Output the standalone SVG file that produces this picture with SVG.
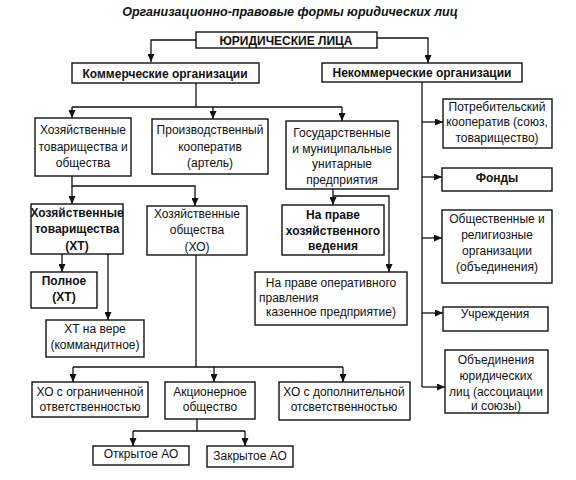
<svg xmlns="http://www.w3.org/2000/svg" width="576" height="480" viewBox="0 0 576 480">
<style>
rect{fill:#fff;stroke:#111;stroke-width:1.4}
text{font-family:"Liberation Sans",Arial,sans-serif;font-size:12px;fill:#111;text-anchor:middle}
.b{font-weight:bold}
.t{font-weight:bold;font-style:italic;font-size:12.5px}
#conn path{fill:none;stroke:#111;stroke-width:1.3}
</style>
<defs>
<marker id="ar" markerUnits="userSpaceOnUse" markerWidth="8" markerHeight="7" refX="8" refY="3.5" orient="auto">
<path d="M0,0 L8,3.5 L0,7 z" fill="#111"/>
</marker>
</defs>
<rect x="0" y="0" width="576" height="480" style="fill:#fff;stroke:none"/>
<text class="t" x="290" y="16">Организационно-правовые формы юридических лиц</text>

<g id="conn">
<path d="M196,40 H151 V62" marker-end="url(#ar)"/>
<path d="M377,38 H428 V63" marker-end="url(#ar)"/>
<path d="M196,83 V107 M72,107 H342"/>
<path d="M72,107 V118" marker-end="url(#ar)"/>
<path d="M213,107 V119" marker-end="url(#ar)"/>
<path d="M342,107 V121" marker-end="url(#ar)"/>
<path d="M72,176 V186 H195 V206" marker-end="url(#ar)"/>
<path d="M72,186 V204" marker-end="url(#ar)"/>
<path d="M62,254 V272" marker-end="url(#ar)"/>
<path d="M108,254 V320" marker-end="url(#ar)"/>
<path d="M196,255 V367 M73,367 H343"/>
<path d="M73,367 V382" marker-end="url(#ar)"/>
<path d="M214,367 V382" marker-end="url(#ar)"/>
<path d="M343,367 V382" marker-end="url(#ar)"/>
<path d="M197,419 V431 M133,431 H245"/>
<path d="M133,431 V446" marker-end="url(#ar)"/>
<path d="M245,431 V446" marker-end="url(#ar)"/>
<path d="M333,189 V205" marker-end="url(#ar)"/>
<path d="M333,196 H389 V272" marker-end="url(#ar)"/>
<path d="M422,82 V387"/>
<path d="M422,122 H443" marker-end="url(#ar)"/>
<path d="M422,177 H442" marker-end="url(#ar)"/>
<path d="M422,238 H442" marker-end="url(#ar)"/>
<path d="M422,313 H443" marker-end="url(#ar)"/>
<path d="M422,387 H445" marker-end="url(#ar)"/>
</g>

<g id="ul"><rect x="196" y="32" width="181" height="16"/><text class="b" x="286" y="44.5">ЮРИДИЧЕСКИЕ ЛИЦА</text></g>
<g id="kom"><rect x="72" y="63" width="187" height="20"/><text class="b" x="165" y="77.5">Коммерческие организации</text></g>
<g id="nekom"><rect x="322" y="63" width="200" height="19"/><text class="b" x="422" y="77">Некоммерческие организации</text></g>

<g id="hoztov"><rect x="35" y="118" width="96" height="58"/>
<text x="83" y="134">Хозяйственные</text><text x="83" y="150.5">товарищества и</text><text x="83" y="167">общества</text></g>
<g id="proizv"><rect x="152" y="119" width="116" height="55"/>
<text x="210" y="134">Производственный</text><text x="210" y="150.5">кооператив</text><text x="210" y="167">(артель)</text></g>
<g id="gos"><rect x="286" y="121" width="112" height="68"/>
<text x="342" y="137">Государственные</text><text x="342" y="152.5">и муниципальные</text><text x="342" y="168">унитарные</text><text x="342" y="183.5">предприятия</text></g>

<g id="xt"><rect x="31" y="204" width="92" height="50"/>
<text class="b" x="77" y="216.5">Хозяйственные</text><text class="b" x="77" y="233">товарищества</text><text class="b" x="77" y="249.5">(ХТ)</text></g>
<g id="xo"><rect x="147" y="206" width="100" height="49"/>
<text x="197" y="217.5">Хозяйственные</text><text x="197" y="234">общества</text><text x="197" y="251">(ХО)</text></g>
<g id="hozved"><rect x="282" y="205" width="102" height="50"/>
<text class="b" x="333" y="219">На праве</text><text class="b" x="333" y="234.5">хозяйственного</text><text class="b" x="333" y="250">ведения</text></g>

<g id="polnoe"><rect x="31" y="272" width="66" height="36"/>
<text class="b" x="64" y="285">Полное</text><text class="b" x="64" y="301">(ХТ)</text></g>
<g id="xtvere"><rect x="46" y="320" width="98" height="37"/>
<text x="95" y="333">ХТ на вере</text><text x="95" y="348.5">(коммандитное)</text></g>
<g id="oper"><rect x="255" y="272" width="152" height="53"/>
<text x="331" y="287">На праве оперативного</text><text x="259" y="301.5" style="text-anchor:start">правления</text><text x="331" y="316">казенное предприятие)</text></g>

<g id="xoogr"><rect x="32" y="382" width="116" height="35"/>
<text x="90" y="396">ХО с ограниченной</text><text x="90" y="411">ответственностью</text></g>
<g id="ao"><rect x="165" y="382" width="90" height="37"/>
<text x="210" y="396">Акционерное</text><text x="210" y="411">общество</text></g>
<g id="xodop"><rect x="279" y="382" width="131" height="38"/>
<text x="344" y="396">ХО с дополнительной</text><text x="344" y="411">отсветственностью</text></g>
<g id="otkr"><rect x="93" y="446" width="96" height="19"/><text x="141" y="458">Открытое АО</text></g>
<g id="zakr"><rect x="207" y="446" width="86" height="21"/><text x="250" y="459.5">Закрытое АО</text></g>

<g id="potreb"><rect x="443" y="99" width="109" height="49"/>
<text x="497" y="110.5">Потребительский</text><text x="497" y="126">кооператив (союз,</text><text x="497" y="141.5">товарищество)</text></g>
<g id="fondy"><rect x="442" y="168" width="110" height="23"/><text class="b" x="497" y="181.5">Фонды</text></g>
<g id="obshch"><rect x="442" y="210" width="110" height="73"/>
<text x="497" y="223">Общественные и</text><text x="497" y="239">религиозные</text><text x="497" y="255">организации</text><text x="497" y="271">(объединения)</text></g>
<g id="uchr"><rect x="443" y="307" width="105" height="24"/><text x="495" y="318">Учреждения</text></g>
<g id="obed"><rect x="445" y="350" width="103" height="63"/>
<text x="496" y="364">Объединения</text><text x="496" y="380">юридических</text><text x="496" y="395.5">лиц (ассоциации</text><text x="496" y="410">и союзы)</text></g>
</svg>
